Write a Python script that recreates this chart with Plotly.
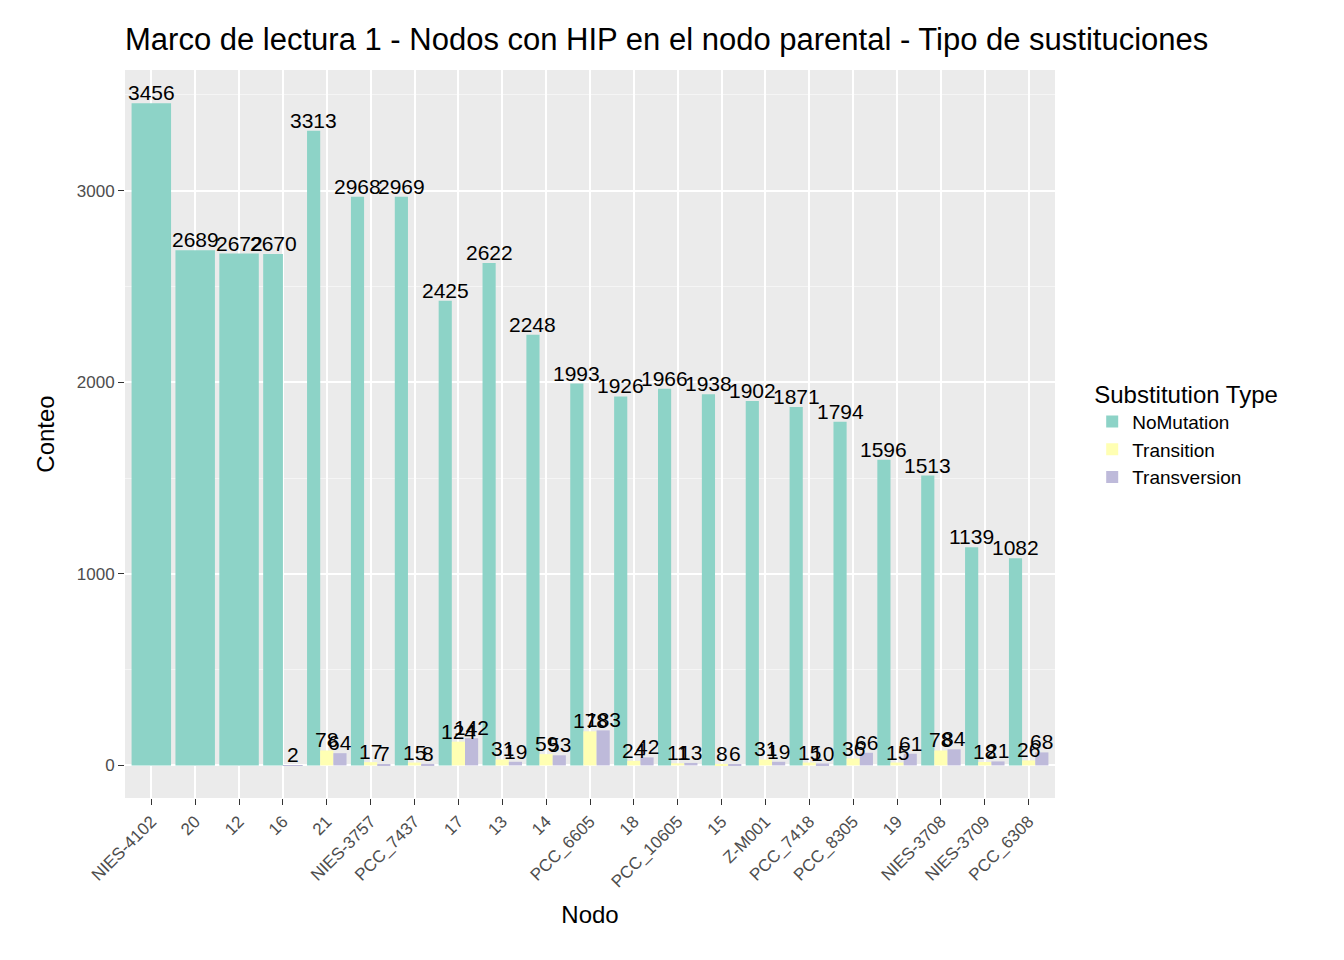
import plotly.graph_objects as go

nodes = ["NIES-4102","20","12","16","21","NIES-3757","PCC_7437","17","13","14","PCC_6605","18",
         "PCC_10605","15","Z-M001","PCC_7418","PCC_8305","19","NIES-3708","NIES-3709","PCC_6308"]
no_mutation = [3456,2689,2672,2670,3313,2968,2969,2425,2622,2248,1993,1926,1966,1938,1902,1871,1794,1596,1513,1139,1082]
transition = [None,None,None,None,78,17,15,124,31,59,178,24,11,8,31,15,36,15,78,18,26]
transversion = [None,None,None,2,64,7,8,142,19,53,183,42,13,6,19,10,66,61,84,21,68]

series = [("NoMutation", no_mutation, "#8DD3C7"),
          ("Transition", transition, "#FFFFB3"),
          ("Transversion", transversion, "#BEBADA")]

total_w = 0.9
fig = go.Figure()
present = [[s[1][i] is not None for s in series] for i in range(len(nodes))]
annotations = []
for k, (name, vals, col) in enumerate(series):
    offs, wids = [], []
    for i in range(len(nodes)):
        n = sum(present[i])
        w = total_w / n
        idx = sum(present[i][:k])
        o = -total_w/2 + idx*w
        offs.append(o)
        wids.append(w)
        if vals[i] is not None:
            annotations.append(dict(x=i + o + w/2, y=vals[i], xref="x", yref="y", text=str(vals[i]),
                                    showarrow=False, yanchor="bottom", yshift=-3,
                                    font=dict(size=21, color="black")))
    fig.add_trace(go.Bar(
        x=nodes, y=vals, name=name, marker_color=col, marker_line_width=0,
        offset=offs, width=wids))

fig.update_layout(
    barmode="overlay", width=1344, height=960,
    paper_bgcolor="white", plot_bgcolor="#EBEBEB",
    font=dict(family="Liberation Sans", color="black"),
    title=dict(text="Marco de lectura 1 - Nodos con HIP en el nodo parental - Tipo de sustituciones",
               x=117/1344, xanchor="left", y=0.968, yanchor="middle", font=dict(size=31)),
    margin=dict(l=117, r=297, t=62, b=170),
    legend=dict(title=dict(text="Substitution Type", font=dict(size=24)), font=dict(size=19),
                x=1.04, xanchor="left", y=0.5, yanchor="middle", traceorder="normal",
                itemsizing="constant", tracegroupgap=12),
    annotations=annotations,
)
fig.update_xaxes(title=dict(text="Nodo", font=dict(size=24)), tickangle=-45,
                 tickfont=dict(size=17, color="#4D4D4D"), showgrid=True, gridcolor="white", gridwidth=2,
                 ticks="outside", tickcolor="#333333", ticklen=6, range=[-0.6, 20.6])
fig.update_yaxes(title=dict(text="Conteo", font=dict(size=24)), range=[-170, 3630],
                 tickvals=[0,1000,2000,3000], tickfont=dict(size=17, color="#4D4D4D"),
                 gridcolor="white", gridwidth=2, zeroline=False,
                 minor=dict(tickvals=[500,1500,2500,3500], showgrid=True, gridcolor="#F5F5F5", gridwidth=1),
                 ticks="outside", tickcolor="#333333", ticklen=6)
fig.write_html("out.html")
